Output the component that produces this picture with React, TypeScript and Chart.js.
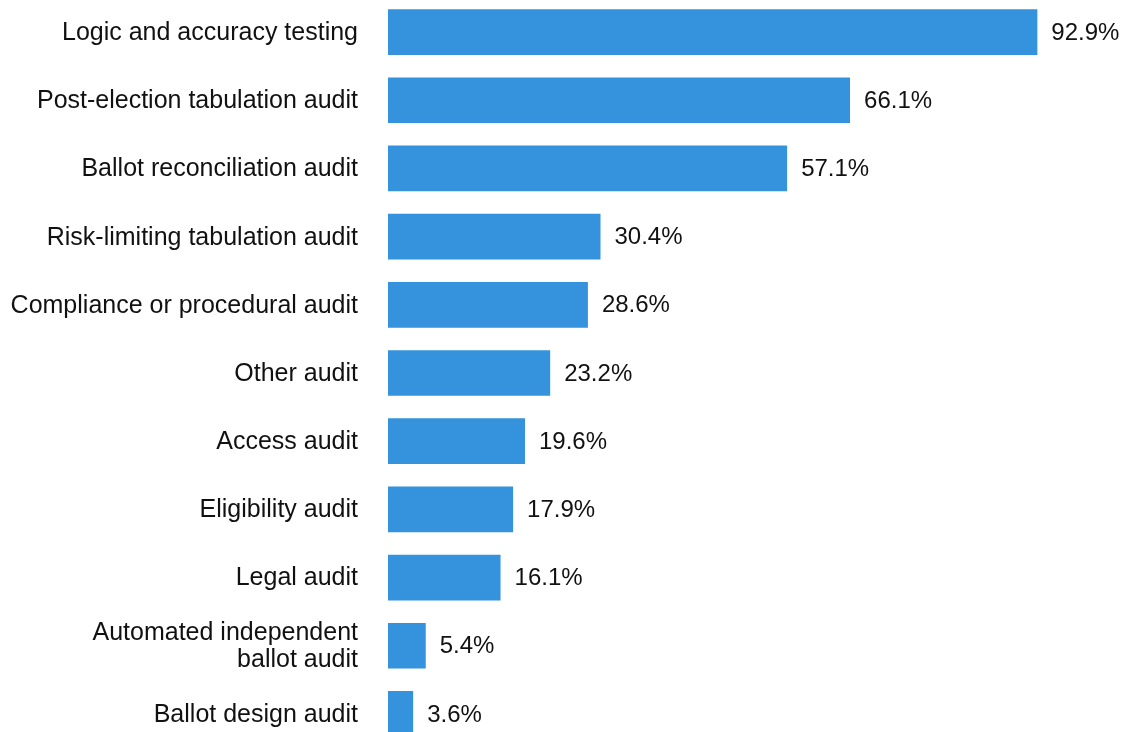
import React, { useEffect, useRef } from "react";
import { Chart, registerables } from "chart.js";

Chart.register(...registerables);

const categories: (string | string[])[] = [
  "Logic and accuracy testing",
  "Post-election tabulation audit",
  "Ballot reconciliation audit",
  "Risk-limiting tabulation audit",
  "Compliance or procedural audit",
  "Other audit",
  "Access audit",
  "Eligibility audit",
  "Legal audit",
  ["Automated independent", "ballot audit"],
  "Ballot design audit",
];

const values: number[] = [92.9, 66.1, 57.1, 30.4, 28.6, 23.2, 19.6, 17.9, 16.1, 5.4, 3.6];

const FONT = "'Liberation Sans', Arial, sans-serif";

const valueLabels = {
  id: "valueLabels",
  afterDatasetsDraw(chart: any) {
    const ctx = chart.ctx;
    const meta = chart.getDatasetMeta(0);
    ctx.save();
    ctx.font = `24px ${FONT}`;
    ctx.fillStyle = "#111111";
    ctx.textAlign = "left";
    ctx.textBaseline = "middle";
    meta.data.forEach((bar: any, i: number) => {
      ctx.fillText(values[i].toFixed(1) + "%", bar.x + 14, bar.y + 1);
    });
    ctx.restore();
  },
};

export default function App() {
  const ref = useRef<HTMLCanvasElement | null>(null);
  useEffect(() => {
    if (!ref.current) return;
    const chart = new Chart(ref.current, {
      type: "bar",
      data: {
        labels: categories,
        datasets: [
          {
            data: values,
            backgroundColor: "#3592dd",
            borderWidth: 0,
            barPercentage: 0.67,
            categoryPercentage: 1,
          },
        ],
      },
      options: {
        indexAxis: "y",
        animation: false,
        responsive: false,
        layout: { padding: { left: 0, right: 41, top: 0, bottom: 0 } },
        plugins: { legend: { display: false }, tooltip: { enabled: false } },
        scales: {
          x: {
            min: 0,
            max: 100,
            display: false,
          },
          y: {
            grid: { display: false, drawTicks: false },
            border: { display: false },
            afterFit: (scale: any) => {
              scale.width = 388;
              scale.paddingTop = 0;
              scale.paddingBottom = 0;
            },
            ticks: {
              padding: 30,
              labelOffset: 1,
              color: "#111111",
              font: { family: FONT, size: 25, lineHeight: 1.05 },
            },
          },
        },
      },
      plugins: [valueLabels],
    });
    return () => chart.destroy();
  }, []);
  return (
    <div style={{ position: "absolute", top: -2, left: 0, width: 1128, height: 750 }}>
      <canvas ref={ref} width={1128} height={750} style={{ display: "block" }} />
    </div>
  );
}
